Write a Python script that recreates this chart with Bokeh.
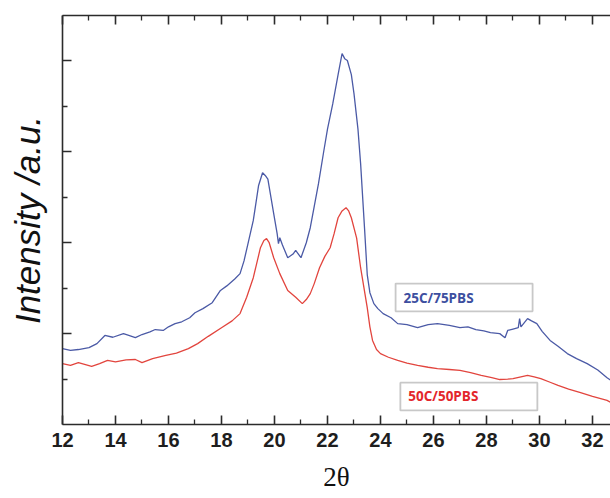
from bokeh.plotting import figure
from bokeh.models import (LinearAxis, FixedTicker, Label, BoxAnnotation, Range1d,
                          CustomLabelingPolicy)
from bokeh.embed import file_html
from bokeh.resources import INLINE

# ---------------- data ----------------
blue_x = [12.0, 12.3, 12.6, 13.0, 13.3, 13.6, 13.9, 14.3, 14.5, 14.75, 15.0, 15.3, 15.5, 15.8,
          16.0, 16.25, 16.5, 16.8, 17.0, 17.3, 17.65, 17.96, 18.2, 18.5, 18.7, 18.85, 19.0, 19.2,
          19.4, 19.55, 19.65, 19.75, 19.97, 20.1, 20.15, 20.2, 20.3, 20.5, 20.7, 20.8, 21.0, 21.2,
          21.35, 21.5, 21.66, 21.85, 22.0, 22.2, 22.4, 22.55, 22.65, 22.75, 22.9, 23.0, 23.15,
          23.25, 23.4, 23.5, 23.6, 23.75, 23.9, 24.1, 24.4, 24.65, 25.0, 25.4, 25.8, 26.15, 26.6,
          27.0, 27.3, 27.6, 27.9, 28.15, 28.5, 28.7, 28.8, 29.0, 29.2, 29.25, 29.3, 29.55, 29.7,
          29.9, 30.1, 30.4, 30.7, 31.05, 31.4, 31.8, 32.2, 32.55, 32.7]
blue_y = [167, 163, 165, 169, 178, 196, 192, 200, 196, 191, 198, 204, 209, 207,
          215, 222, 226, 235, 246, 255, 268, 295, 305, 320, 332, 360, 398, 449,
          526, 554, 548, 540, 464, 420, 398, 411, 395, 367, 375, 383, 367, 400,
          433, 480, 530, 598, 650, 706, 770, 816, 805, 801, 770, 728, 650,
          574, 430, 330, 290, 266, 255, 244, 235, 222, 220, 213, 220, 222, 218,
          213, 215, 209, 206, 202, 200, 191, 207, 210, 213, 233, 215, 233, 228,
          222, 205, 185, 172, 156, 145, 134, 120, 103, 97]

red_x = [12.0, 12.3, 12.6, 13.1, 13.4, 13.7, 14.0, 14.4, 14.75, 15.0, 15.4, 15.9, 16.3, 16.75,
         17.1, 17.5, 18.0, 18.4, 18.7, 18.95, 19.2, 19.47, 19.6, 19.7, 19.8, 19.97, 20.2, 20.5,
         20.8, 21.05, 21.2, 21.35, 21.5, 21.7, 21.9, 22.1, 22.25, 22.4, 22.55, 22.7, 22.8, 22.9,
         23.1, 23.25, 23.5, 23.6, 23.7, 23.85, 24.0, 24.3, 24.65, 25.0, 25.4, 25.8, 26.15, 26.6,
         27.0, 27.4, 27.8, 28.2, 28.5, 28.8, 29.0, 29.3, 29.55, 29.8, 30.05, 30.4, 30.7, 31.1,
         31.55, 32.0, 32.55, 32.7]
red_y = [134, 130, 136, 128, 134, 141, 138, 142, 143, 136, 145, 152, 157, 167,
         178, 194, 213, 228, 244, 280, 323, 389, 405, 409, 400, 367, 332, 295,
         280, 266, 275, 288, 310, 345, 370, 389, 420, 455, 470, 477, 470, 455,
         410, 345, 257, 215, 185, 165, 156, 148, 141, 135, 130, 126, 123, 121,
         119, 114, 108, 103, 99, 100, 101, 105, 108, 105, 101, 93, 86, 78,
         70, 62, 53, 48]

x_major = [12, 14, 16, 18, 20, 22, 24, 26, 28, 30, 32]
x_minor = [13, 15, 17, 19, 21, 23, 25, 27, 29, 31, 33]
y_major = [200, 400, 600, 800]
y_minor = [100, 300, 500, 700]

label_blue = "25C/75PBS"
label_red = "50C/50PBS"
x_title = "2θ"
y_title = "Intensity /a.u."

BLUE = "#4b5aa6"
RED = "#e2453e"
AXIS = "#2b2b2b"

p = figure(width=610, height=498, output_backend="svg", toolbar_location=None,
           x_range=Range1d(12, 32.68), y_range=Range1d(0, 900),
           x_axis_location=None, y_axis_location=None,
           min_border_left=62, min_border_right=0, min_border_top=15, min_border_bottom=74)
p.outline_line_color = None
p.grid.visible = False
p.background_fill_color = "white"
p.border_fill_color = "white"

no_labels = CustomLabelingPolicy(code="return new indices.constructor(indices.size)")

def style_axis(ax, ticks, minor, show_labels):
    ax.ticker = FixedTicker(ticks=ticks, minor_ticks=minor)
    ax.axis_line_color = AXIS
    ax.axis_line_width = 1.6
    ax.major_tick_line_color = AXIS
    ax.minor_tick_line_color = AXIS
    ax.major_tick_line_width = 1.6
    ax.minor_tick_line_width = 1.3
    ax.major_tick_in = 9
    ax.major_tick_out = 0
    ax.minor_tick_in = 5
    ax.minor_tick_out = 0
    if show_labels:
        ax.major_label_text_font = "Liberation Sans"
        ax.major_label_text_font_size = "20px"
        ax.major_label_text_font_style = "bold"
        ax.major_label_text_color = "#1e1e1e"
        ax.major_label_standoff = 8
    else:
        ax.major_label_policy = no_labels
        ax.major_label_text_font_size = "0px"
        ax.major_label_standoff = 0

xb = LinearAxis(axis_label=x_title)
style_axis(xb, x_major, x_minor, True)
xb.axis_label_text_font = "Liberation Serif"
xb.axis_label_text_font_style = "normal"
xb.axis_label_text_font_size = "27px"
xb.axis_label_text_color = "#111111"
xb.axis_label_standoff = 12
p.add_layout(xb, "below")

xt = LinearAxis()
style_axis(xt, x_major, x_minor, False)
p.add_layout(xt, "above")

yl = LinearAxis(axis_label=y_title)
style_axis(yl, y_major, y_minor, False)
yl.axis_label_text_font = "Liberation Sans"
yl.axis_label_text_font_style = "italic"
yl.axis_label_text_font_size = "35px"
yl.axis_label_text_color = "#111111"
yl.axis_label_standoff = 16
p.add_layout(yl, "left")

p.line(blue_x, blue_y, line_color=BLUE, line_width=1.3)
p.line(red_x, red_y, line_color=RED, line_width=1.3)

# label boxes
p.add_layout(BoxAnnotation(left=24.57, right=29.74, bottom=249, top=310,
                           fill_color="white", fill_alpha=1, line_color="#4a4a4a", line_width=1.8))
p.add_layout(BoxAnnotation(left=24.75, right=29.92, bottom=31, top=92,
                           fill_color="white", fill_alpha=1, line_color="#4a4a4a", line_width=1.8))
p.add_layout(Label(x=24.87, y=279, text=label_blue, text_color="#3d4fa0",
                   text_font="Open Sans", text_font_style="bold", text_font_size="13.5px",
                   text_baseline="middle", text_align="left"))
p.add_layout(Label(x=25.05, y=62, text=label_red, text_color="#e3262b",
                   text_font="Open Sans", text_font_style="bold", text_font_size="13.5px",
                   text_baseline="middle", text_align="left"))

open("out.html", "w").write(file_html(p, INLINE))
